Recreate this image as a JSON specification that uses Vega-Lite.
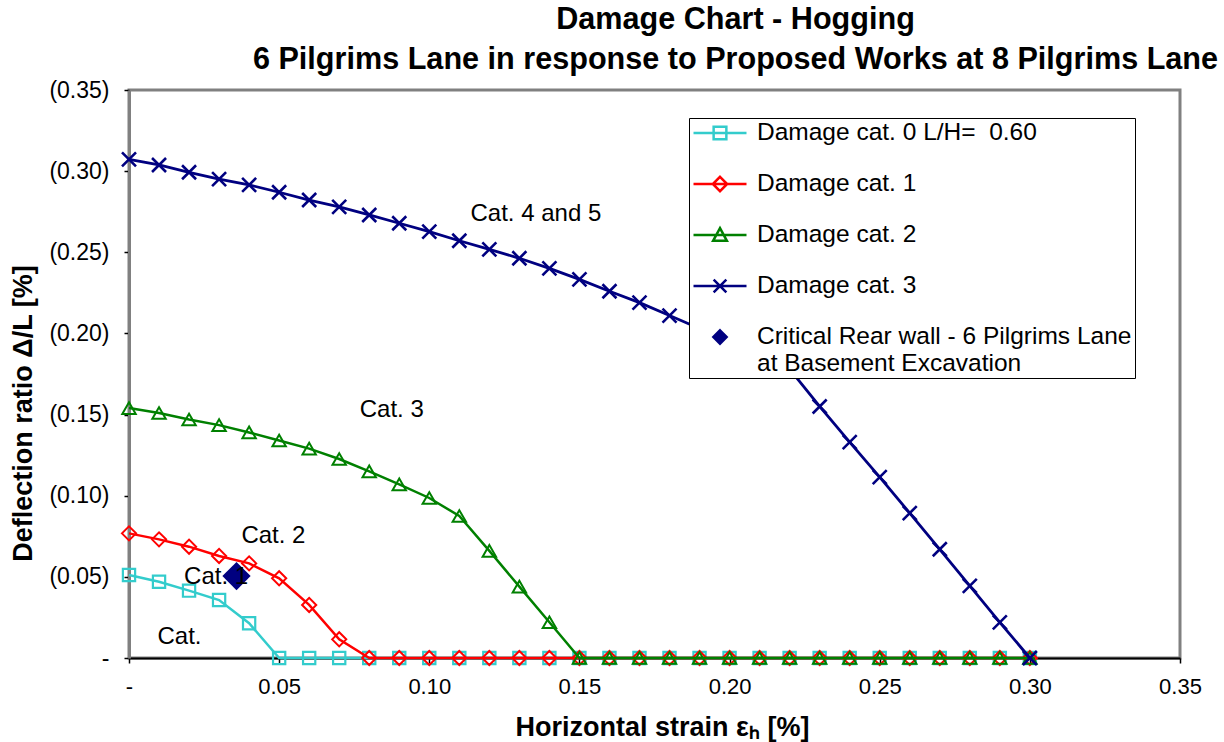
{
  "$schema": "https://vega.github.io/schema/vega-lite/v6.json",
  "width": 1051,
  "height": 568,
  "autosize": {"type": "none"},
  "padding": {"left": 129, "top": 90, "right": 44, "bottom": 84},
  "background": "white",
  "title": {
    "text": ["Damage Chart - Hogging", "6 Pilgrims Lane in response to Proposed Works at 8 Pilgrims Lane"],
    "font": "Liberation Sans",
    "fontSize": 30.6,
    "fontWeight": "bold",
    "color": "black",
    "lineHeight": 40,
    "anchor": "middle",
    "dx": 81,
    "offset": 3
  },
  "datasets": {
    "curves": [
      {"s": "c0", "x": 0.00, "y": 0.0511}, {"s": "c0", "x": 0.01, "y": 0.0470}, {"s": "c0", "x": 0.02, "y": 0.0415}, {"s": "c0", "x": 0.03, "y": 0.0357}, {"s": "c0", "x": 0.04, "y": 0.0214}, {"s": "c0", "x": 0.05, "y": 0}, {"s": "c0", "x": 0.06, "y": 0}, {"s": "c0", "x": 0.07, "y": 0}, {"s": "c0", "x": 0.08, "y": 0}, {"s": "c0", "x": 0.09, "y": 0}, {"s": "c0", "x": 0.10, "y": 0}, {"s": "c0", "x": 0.11, "y": 0}, {"s": "c0", "x": 0.12, "y": 0}, {"s": "c0", "x": 0.13, "y": 0}, {"s": "c0", "x": 0.14, "y": 0}, {"s": "c0", "x": 0.15, "y": 0}, {"s": "c0", "x": 0.16, "y": 0}, {"s": "c0", "x": 0.17, "y": 0}, {"s": "c0", "x": 0.18, "y": 0}, {"s": "c0", "x": 0.19, "y": 0}, {"s": "c0", "x": 0.20, "y": 0}, {"s": "c0", "x": 0.21, "y": 0}, {"s": "c0", "x": 0.22, "y": 0}, {"s": "c0", "x": 0.23, "y": 0}, {"s": "c0", "x": 0.24, "y": 0}, {"s": "c0", "x": 0.25, "y": 0}, {"s": "c0", "x": 0.26, "y": 0}, {"s": "c0", "x": 0.27, "y": 0}, {"s": "c0", "x": 0.28, "y": 0}, {"s": "c0", "x": 0.29, "y": 0}, {"s": "c0", "x": 0.30, "y": 0},
      {"s": "c1", "x": 0.00, "y": 0.0768}, {"s": "c1", "x": 0.01, "y": 0.0731}, {"s": "c1", "x": 0.02, "y": 0.0686}, {"s": "c1", "x": 0.03, "y": 0.0629}, {"s": "c1", "x": 0.04, "y": 0.0583}, {"s": "c1", "x": 0.05, "y": 0.0491}, {"s": "c1", "x": 0.06, "y": 0.0327}, {"s": "c1", "x": 0.07, "y": 0.0115}, {"s": "c1", "x": 0.08, "y": 0}, {"s": "c1", "x": 0.09, "y": 0}, {"s": "c1", "x": 0.10, "y": 0}, {"s": "c1", "x": 0.11, "y": 0}, {"s": "c1", "x": 0.12, "y": 0}, {"s": "c1", "x": 0.13, "y": 0}, {"s": "c1", "x": 0.14, "y": 0}, {"s": "c1", "x": 0.15, "y": 0}, {"s": "c1", "x": 0.16, "y": 0}, {"s": "c1", "x": 0.17, "y": 0}, {"s": "c1", "x": 0.18, "y": 0}, {"s": "c1", "x": 0.19, "y": 0}, {"s": "c1", "x": 0.20, "y": 0}, {"s": "c1", "x": 0.21, "y": 0}, {"s": "c1", "x": 0.22, "y": 0}, {"s": "c1", "x": 0.23, "y": 0}, {"s": "c1", "x": 0.24, "y": 0}, {"s": "c1", "x": 0.25, "y": 0}, {"s": "c1", "x": 0.26, "y": 0}, {"s": "c1", "x": 0.27, "y": 0}, {"s": "c1", "x": 0.28, "y": 0}, {"s": "c1", "x": 0.29, "y": 0}, {"s": "c1", "x": 0.30, "y": 0},
      {"s": "c2", "x": 0.00, "y": 0.1540}, {"s": "c2", "x": 0.01, "y": 0.1510}, {"s": "c2", "x": 0.02, "y": 0.1470}, {"s": "c2", "x": 0.03, "y": 0.1435}, {"s": "c2", "x": 0.04, "y": 0.1390}, {"s": "c2", "x": 0.05, "y": 0.1340}, {"s": "c2", "x": 0.06, "y": 0.1290}, {"s": "c2", "x": 0.07, "y": 0.1226}, {"s": "c2", "x": 0.08, "y": 0.1150}, {"s": "c2", "x": 0.09, "y": 0.1070}, {"s": "c2", "x": 0.10, "y": 0.0986}, {"s": "c2", "x": 0.11, "y": 0.0875}, {"s": "c2", "x": 0.12, "y": 0.0660}, {"s": "c2", "x": 0.13, "y": 0.0440}, {"s": "c2", "x": 0.14, "y": 0.0220}, {"s": "c2", "x": 0.15, "y": 0}, {"s": "c2", "x": 0.16, "y": 0}, {"s": "c2", "x": 0.17, "y": 0}, {"s": "c2", "x": 0.18, "y": 0}, {"s": "c2", "x": 0.19, "y": 0}, {"s": "c2", "x": 0.20, "y": 0}, {"s": "c2", "x": 0.21, "y": 0}, {"s": "c2", "x": 0.22, "y": 0}, {"s": "c2", "x": 0.23, "y": 0}, {"s": "c2", "x": 0.24, "y": 0}, {"s": "c2", "x": 0.25, "y": 0}, {"s": "c2", "x": 0.26, "y": 0}, {"s": "c2", "x": 0.27, "y": 0}, {"s": "c2", "x": 0.28, "y": 0}, {"s": "c2", "x": 0.29, "y": 0}, {"s": "c2", "x": 0.30, "y": 0},
      {"s": "c3", "x": 0.00, "y": 0.3073}, {"s": "c3", "x": 0.01, "y": 0.3038}, {"s": "c3", "x": 0.02, "y": 0.2993}, {"s": "c3", "x": 0.03, "y": 0.2951}, {"s": "c3", "x": 0.04, "y": 0.2915}, {"s": "c3", "x": 0.05, "y": 0.2870}, {"s": "c3", "x": 0.06, "y": 0.2822}, {"s": "c3", "x": 0.07, "y": 0.2780}, {"s": "c3", "x": 0.08, "y": 0.2730}, {"s": "c3", "x": 0.09, "y": 0.2679}, {"s": "c3", "x": 0.10, "y": 0.2627}, {"s": "c3", "x": 0.11, "y": 0.2571}, {"s": "c3", "x": 0.12, "y": 0.2518}, {"s": "c3", "x": 0.13, "y": 0.2463}, {"s": "c3", "x": 0.14, "y": 0.2401}, {"s": "c3", "x": 0.15, "y": 0.2333}, {"s": "c3", "x": 0.16, "y": 0.2260}, {"s": "c3", "x": 0.17, "y": 0.2190}, {"s": "c3", "x": 0.18, "y": 0.2110}, {"s": "c3", "x": 0.19, "y": 0.2030}, {"s": "c3", "x": 0.20, "y": 0.1950}, {"s": "c3", "x": 0.21, "y": 0.1870}, {"s": "c3", "x": 0.22, "y": 0.1780}, {"s": "c3", "x": 0.23, "y": 0.1550}, {"s": "c3", "x": 0.24, "y": 0.1330}, {"s": "c3", "x": 0.25, "y": 0.1115}, {"s": "c3", "x": 0.26, "y": 0.0893}, {"s": "c3", "x": 0.27, "y": 0.0670}, {"s": "c3", "x": 0.28, "y": 0.0444}, {"s": "c3", "x": 0.29, "y": 0.0220}, {"s": "c3", "x": 0.30, "y": 0}
    ],
    "notes": [
      {"x": 0.1355, "y": 0.2736, "label": "Cat. 4 and 5"},
      {"x": 0.0875, "y": 0.1528, "label": "Cat. 3"},
      {"x": 0.0481, "y": 0.0752, "label": "Cat. 2"},
      {"x": 0.0290, "y": 0.0499, "label": "Cat. 1"},
      {"x": 0.0168, "y": 0.0129, "label": "Cat."}
    ],
    "crit": [
      {"x": 0.0358, "y": 0.0505}
    ]
  },
  "config": {
    "view": {"stroke": "#808080", "strokeWidth": 3},
    "axis": {
      "labelFont": "Liberation Sans",
      "titleFont": "Liberation Sans",
      "labelColor": "black",
      "titleColor": "black",
      "titleFontWeight": "bold",
      "titleFontSize": 27,
      "grid": false,
      "labelFlush": false,
      "labelOverlap": false,
      "tickColor": "black",
      "tickSize": 5,
      "tickWidth": 1.5
    },
    "legend": {
      "orient": "none",
      "legendX": 560,
      "legendY": 28,
      "padding": 3,
      "rowPadding": 26,
      "clipHeight": 24,
      "labelOffset": 9,
      "labelFont": "Liberation Sans",
      "labelFontSize": 24.5,
      "labelColor": "black",
      "labelLimit": 600,
      "symbolSize": 2809,
      "symbolStrokeWidth": 2.5,
      "strokeColor": "black",
      "fillColor": "white"
    }
  },
  "encoding": {
    "x": {
      "field": "x",
      "type": "quantitative",
      "scale": {"domain": [0, 0.35], "nice": false, "zero": false},
      "axis": {
        "values": [0, 0.05, 0.1, 0.15, 0.2, 0.25, 0.3, 0.35],
        "labelExpr": "datum.value == 0 ? '-' : format(datum.value, '.2f')",
        "title": "Horizontal strain εₕ [%]",
        "domainColor": "black",
        "domainWidth": 2,
        "labelFontSize": 22,
        "labelPadding": 13,
        "titleX": 533,
        "titleY": 69,
        "titleBaseline": "middle"
      }
    },
    "y": {
      "field": "y",
      "type": "quantitative",
      "scale": {"domain": [0, 0.35], "nice": false, "zero": false},
      "axis": {
        "values": [0, 0.05, 0.1, 0.15, 0.2, 0.25, 0.3, 0.35],
        "labelExpr": "datum.value == 0 ? '-\u2007\u2007' : '(' + format(datum.value, '.2f') + ')'",
        "title": "Deflection ratio Δ/L [%]",
        "domainColor": "#808080",
        "domainWidth": 3,
        "labelFontSize": 23,
        "labelPadding": 15,
        "titleX": -106,
        "titleY": 323,
        "titleBaseline": "middle"
      }
    }
  },
  "layer": [
    {"data": {"name": "curves"}, "transform": [{"filter": "datum.s == 'c0'"}], "mark": {"type": "line", "color": "#33CCCC", "strokeWidth": 2.5}},
    {"data": {"name": "curves"}, "transform": [{"filter": "datum.s == 'c0'"}], "mark": {"type": "point", "shape": "square", "size": 150, "color": "#33CCCC", "strokeWidth": 2.2, "filled": false, "opacity": 1}},
    {"data": {"name": "curves"}, "transform": [{"filter": "datum.s == 'c1'"}], "mark": {"type": "line", "color": "#FF0000", "strokeWidth": 2.5}},
    {"data": {"name": "curves"}, "transform": [{"filter": "datum.s == 'c1'"}], "mark": {"type": "point", "shape": "diamond", "size": 200, "color": "#FF0000", "strokeWidth": 2, "filled": false, "opacity": 1}},
    {"data": {"name": "curves"}, "transform": [{"filter": "datum.s == 'c2'"}], "mark": {"type": "line", "color": "#008000", "strokeWidth": 2.5}},
    {"data": {"name": "curves"}, "transform": [{"filter": "datum.s == 'c2'"}], "mark": {"type": "point", "shape": "triangle-up", "size": 180, "color": "#008000", "strokeWidth": 2, "filled": false, "opacity": 1}},
    {"data": {"name": "curves"}, "transform": [{"filter": "datum.s == 'c3'"}], "mark": {"type": "line", "color": "#000080", "strokeWidth": 2.8}},
    {"data": {"name": "curves"}, "transform": [{"filter": "datum.s == 'c3'"}], "mark": {"type": "point", "shape": "M-1,-1L1,1M-1,1L1,-1", "size": 196, "color": "#000080", "strokeWidth": 2.6, "filled": false, "opacity": 1}},
    {"data": {"name": "crit"}, "mark": {"type": "point", "shape": "diamond", "size": 800, "color": "#000080", "filled": true, "opacity": 1}},
    {"data": {"name": "notes"}, "mark": {"type": "text", "font": "Liberation Sans", "fontSize": 24, "color": "black", "align": "center", "baseline": "middle"}, "encoding": {"text": {"field": "label"}}},
    {
      "data": {"name": "curves"},
      "transform": [{"filter": "false"}],
      "mark": {"type": "point", "strokeWidth": 2.5, "opacity": 1},
      "encoding": {
        "stroke": {
          "field": "s", "type": "nominal",
          "scale": {"domain": ["c0", "c1", "c2", "c3", "crit"], "range": ["#33CCCC", "#FF0000", "#008000", "#000080", "#000080"]},
          "legend": {"title": null, "labelExpr": "datum.value == 'c0' ? 'Damage cat. 0 L/H=\u00a0 0.60' : datum.value == 'c1' ? 'Damage cat. 1' : datum.value == 'c2' ? 'Damage cat. 2' : datum.value == 'c3' ? 'Damage cat. 3' : ['Critical Rear wall - 6 Pilgrims Lane', 'at Basement Excavation']"}
        },
        "fill": {
          "field": "s", "type": "nominal",
          "scale": {"domain": ["c0", "c1", "c2", "c3", "crit"], "range": ["transparent", "transparent", "transparent", "transparent", "#000080"]},
          "legend": {"title": null, "labelExpr": "datum.value == 'c0' ? 'Damage cat. 0 L/H=\u00a0 0.60' : datum.value == 'c1' ? 'Damage cat. 1' : datum.value == 'c2' ? 'Damage cat. 2' : datum.value == 'c3' ? 'Damage cat. 3' : ['Critical Rear wall - 6 Pilgrims Lane', 'at Basement Excavation']"}
        },
        "shape": {
          "field": "s", "type": "nominal",
          "scale": {"domain": ["c0", "c1", "c2", "c3", "crit"], "range": [
            "M-1,0H1M-0.24,-0.24H0.24V0.24H-0.24Z",
            "M-1,0H1M0,-0.27L0.27,0L0,0.27L-0.27,0Z",
            "M-1,0H1M0,-0.26L0.26,0.22H-0.26Z",
            "M-1,0H1M-0.24,-0.24L0.24,0.24M-0.24,0.24L0.24,-0.24",
            "M0,-0.25L0.25,0L0,0.25L-0.25,0Z"
          ]},
          "legend": {"title": null, "labelExpr": "datum.value == 'c0' ? 'Damage cat. 0 L/H=\u00a0 0.60' : datum.value == 'c1' ? 'Damage cat. 1' : datum.value == 'c2' ? 'Damage cat. 2' : datum.value == 'c3' ? 'Damage cat. 3' : ['Critical Rear wall - 6 Pilgrims Lane', 'at Basement Excavation']"}
        }
      }
    }
  ]
}
